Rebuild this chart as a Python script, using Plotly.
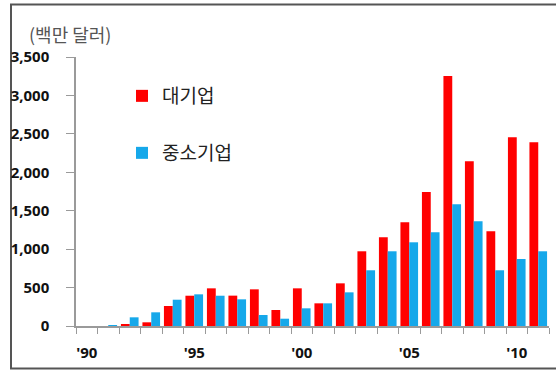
import plotly.graph_objects as go

# Annual values, million USD
years = list(range(1990, 2012))
large_firms = [0, 0, 15, 48, 260, 394, 490, 395, 477, 208, 490, 295,
               555, 972, 1154, 1349, 1743, 3253, 2143, 1232, 2455, 2390]
small_firms = [0, 13, 113, 178, 342, 412, 394, 347, 143, 95, 230, 295,
               438, 725, 972, 1089, 1219, 1583, 1362, 725, 872, 972]

label_years = [1990, 1995, 2000, 2005, 2010]
label_text = ["'90", "'95", "'00", "'05", "'10"]
y_ticks = [0, 500, 1000, 1500, 2000, 2500, 3000, 3500]
y_text = ["0", "500", "1,000", "1,500", "2,000", "2,500", "3,000", "3,500"]

RED = "#FF0000"
BLUE = "#16A8EA"
AXIS = "#9A9A9A"
NUM_FONT = "Noto Sans"
KR_FONT = "Noto Sans CJK KR"

fig = go.Figure()
fig.add_trace(go.Bar(x=years, y=large_firms, name="대기업",
                     marker=dict(color=RED, line=dict(width=0)),
                     legend="legend"))
fig.add_trace(go.Bar(x=years, y=small_firms, name="중소기업",
                     marker=dict(color=BLUE, line=dict(width=0)),
                     legend="legend2"))

# plot area in pixels: x 76..549, y 57..326
L, R, T, B = 76, 7, 57, 44
W, H = 556, 370
pw, ph = W - L - R, H - T - B


def px_x(x):
    return (x - L) / pw


def px_y(y):
    return (H - B - y) / ph


legend_common = dict(
    font=dict(family=KR_FONT, size=19, color="#222222"),
    bgcolor="rgba(0,0,0,0)", borderwidth=0,
    xanchor="left", yanchor="middle", itemclick=False,
)

fig.update_layout(
    width=W, height=H,
    margin=dict(l=L, r=R, t=T, b=B, autoexpand=False),
    paper_bgcolor="white", plot_bgcolor="white",
    barmode="group", bargap=0.18, bargroupgap=0,
    showlegend=True,
    legend=dict(x=px_x(122), y=px_y(96), **legend_common),
    legend2=dict(x=px_x(122), y=px_y(153), **legend_common),
    xaxis=dict(
        range=[1989.5, 2011.5],
        tickmode="array", tickvals=label_years, ticktext=label_text,
        ticks="outside", ticklen=12, tickcolor="rgba(0,0,0,0)",
        tickfont=dict(family=NUM_FONT, size=15, color="#111111", weight="bold"),
        minor=dict(ticks="outside", ticklen=6, tickcolor=AXIS, tickwidth=1,
                   tick0=1989.5, dtick=1, showgrid=False),
        showline=True, linecolor=AXIS, linewidth=1.5,
        showgrid=False, zeroline=False, fixedrange=True,
    ),
    yaxis=dict(
        range=[0, 3500],
        tickmode="array", tickvals=y_ticks, ticktext=y_text,
        ticks="outside", ticklen=8, tickcolor=AXIS, tickwidth=1,
        ticklabelstandoff=14,
        tickfont=dict(family=NUM_FONT, size=15, color="#111111", weight="bold"),
        showline=True, linecolor=AXIS, linewidth=1.5,
        showgrid=False, zeroline=False, fixedrange=True,
    ),
    annotations=[dict(
        text="(백만 달러)", xref="paper", yref="paper",
        x=px_x(27), y=px_y(34), xanchor="left", yanchor="middle",
        showarrow=False, font=dict(family=KR_FONT, size=18, color="#555555"),
    )],
    shapes=[dict(
        type="rect", xref="paper", yref="paper",
        x0=px_x(11), x1=px_x(562), y0=px_y(368.5), y1=px_y(4.5),
        line=dict(color="#555555", width=2), fillcolor="rgba(0,0,0,0)",
        layer="below",
    )],
)

fig.write_html("out.html")
